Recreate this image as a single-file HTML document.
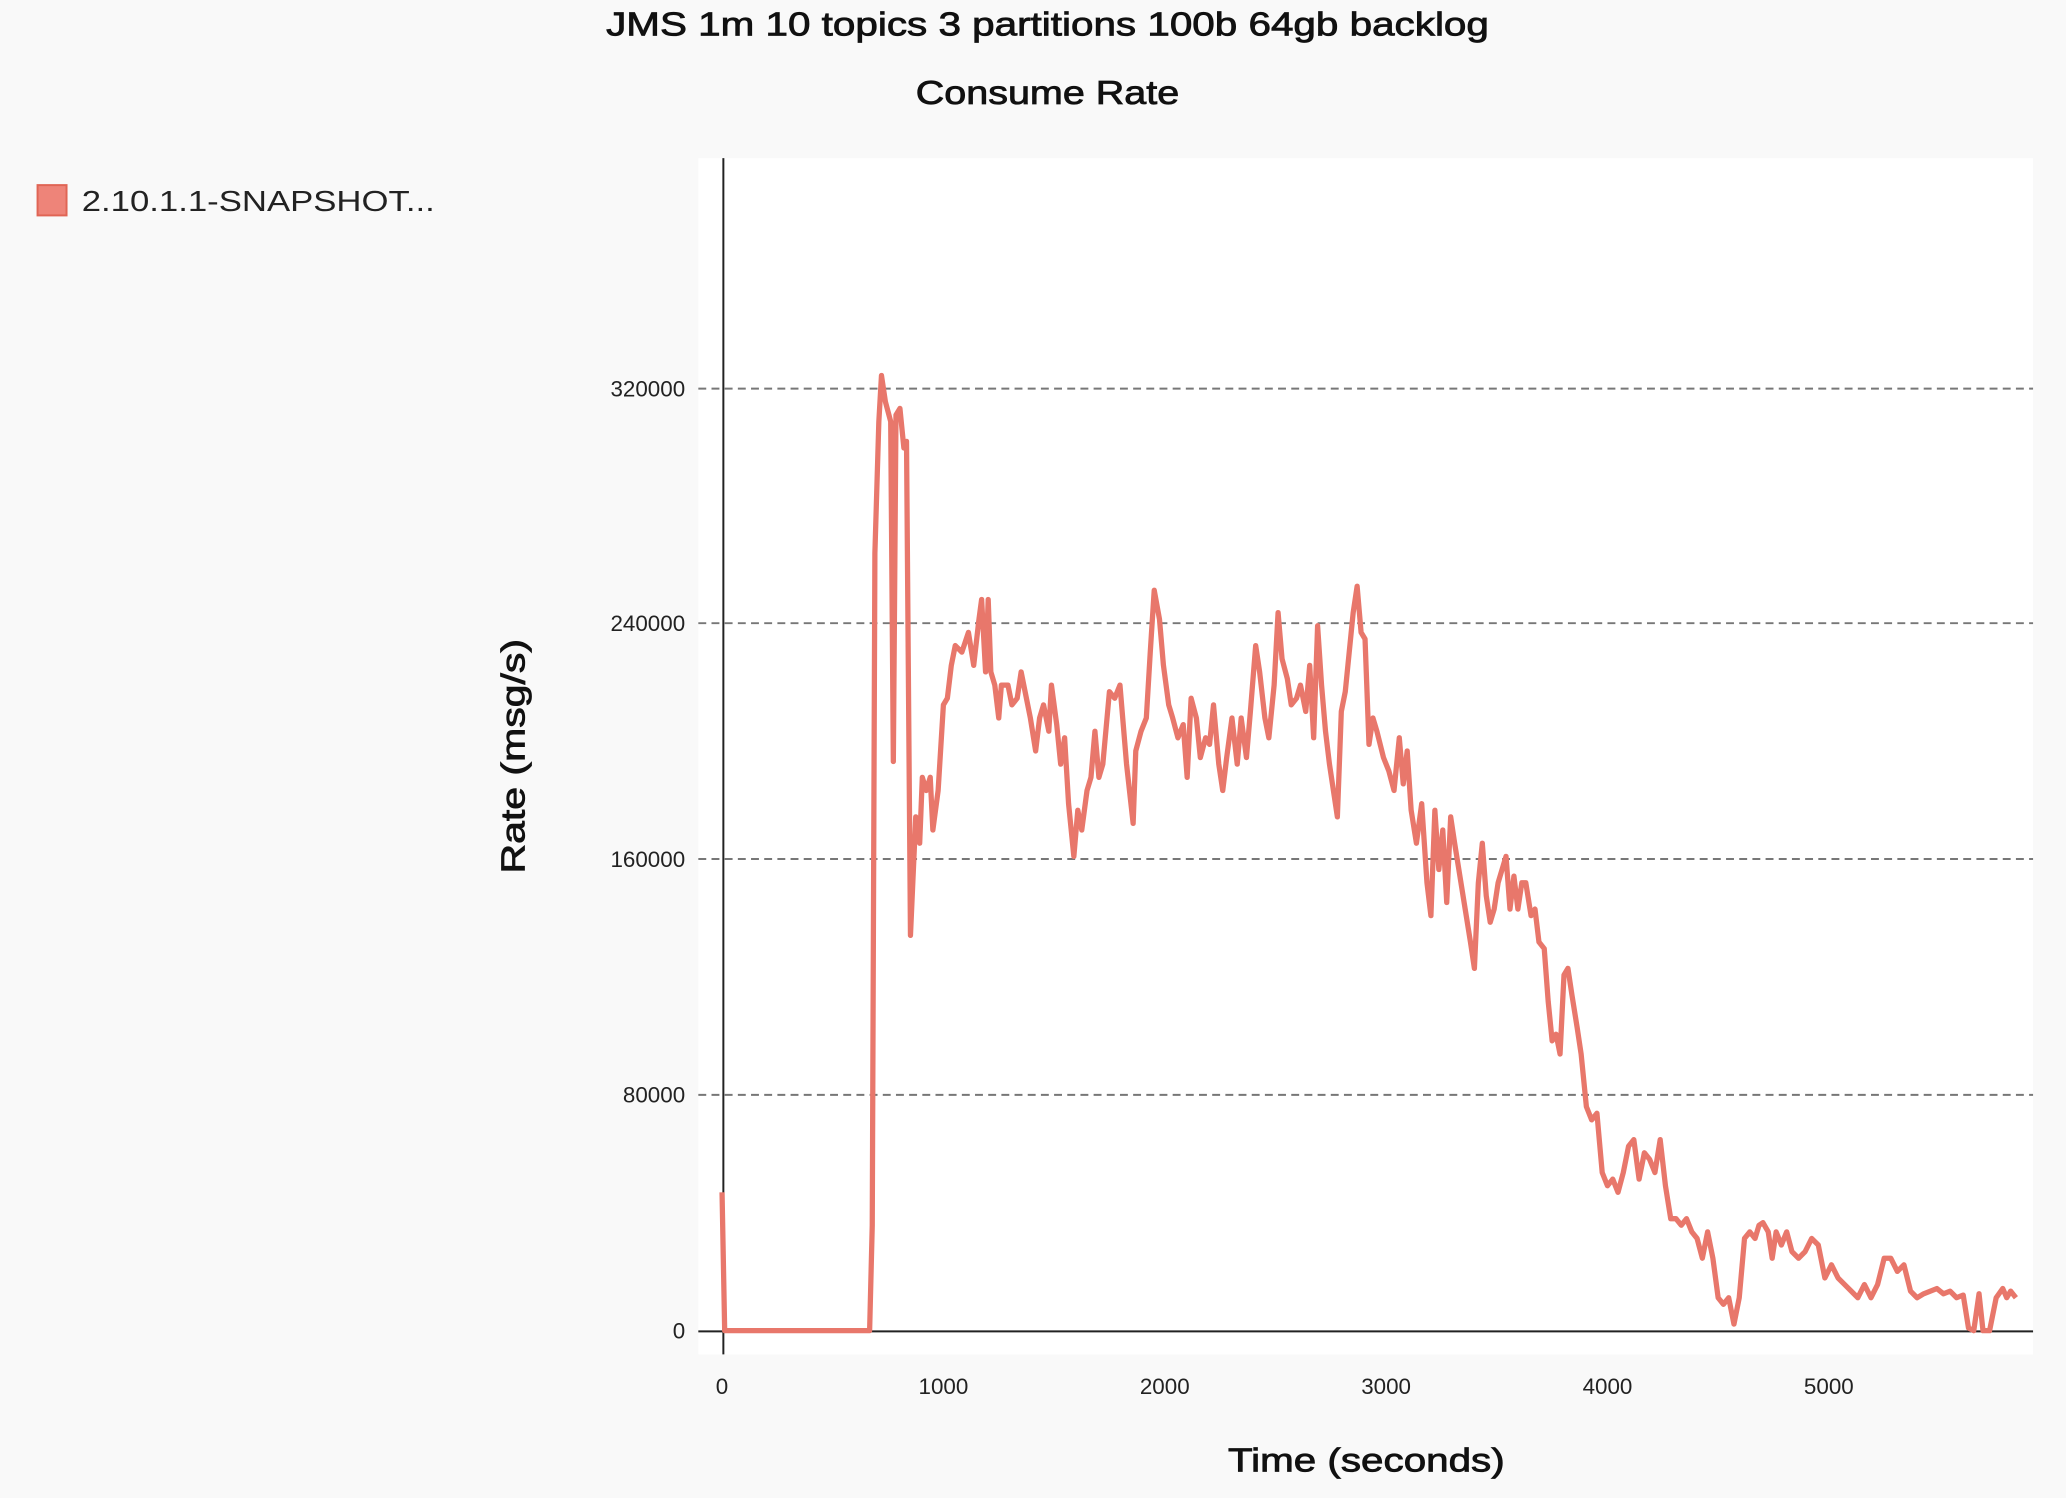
<!DOCTYPE html>
<html><head><meta charset="utf-8"><style>html,body{margin:0;padding:0;background:#f9f9f9}svg{display:block}</style></head>
<body>
<svg width="2066" height="1498" viewBox="0 0 1568 1137" preserveAspectRatio="none" xmlns="http://www.w3.org/2000/svg" font-family="Liberation Sans, DejaVu Sans, sans-serif">
<rect width="1568" height="1137" fill="#f9f9f9"/>
<rect x="530" y="120" width="1013" height="908" fill="#fff"/>
<g stroke="#777" stroke-width="1.5" stroke-dasharray="6,4">
<line x1="530" x2="1543" y1="831" y2="831"/><line x1="530" x2="1543" y1="652" y2="652"/><line x1="530" x2="1543" y1="473" y2="473"/><line x1="530" x2="1543" y1="295" y2="295"/>
</g>
<line x1="530" x2="1543" y1="1010.5" y2="1010.5" stroke="#222" stroke-width="1.5"/>
<line x1="549" x2="549" y1="120" y2="1028" stroke="#222" stroke-width="1.5"/>
<g font-size="17" fill="#222" text-anchor="end">
<text x="520" y="1016">0</text><text x="520" y="837">80000</text><text x="520" y="658">160000</text><text x="520" y="479">240000</text><text x="520" y="301">320000</text>
</g>
<g font-size="17" fill="#222" text-anchor="middle">
<text x="548" y="1058">0</text><text x="716" y="1058">1000</text><text x="884" y="1058">2000</text><text x="1052" y="1058">3000</text><text x="1220" y="1058">4000</text><text x="1388" y="1058">5000</text>
</g>
<g fill="#111" stroke="#111" stroke-width="0.6">
<text x="460" y="27" font-size="25" textLength="670" lengthAdjust="spacingAndGlyphs">JMS 1m 10 topics 3 partitions 100b 64gb backlog</text>
<text x="695" y="79" font-size="25" textLength="200" lengthAdjust="spacingAndGlyphs">Consume Rate</text>
<text x="932" y="1117" font-size="25" textLength="210" lengthAdjust="spacingAndGlyphs">Time (seconds)</text>
<text transform="translate(398,663) rotate(-90)" font-size="25" textLength="178" lengthAdjust="spacingAndGlyphs">Rate (msg/s)</text>
</g>
<rect x="28.5" y="140.5" width="22" height="23" fill="#ee8479" stroke="#e06555" stroke-width="1.5"/>
<text x="62" y="160" font-size="22" fill="#222" textLength="268" lengthAdjust="spacingAndGlyphs">2.10.1.1-SNAPSHOT...</text>
<polyline fill="none" stroke="#e8776b" stroke-width="4" stroke-linejoin="round" points="548,905 550,1010 660,1010 662,930 664,420 667,320 669,285 672,305 676,320 678,578 680,315 683,310 686,340 688,335 691,710 695,620 698,640 700,590 703,600 706,590 708,630 712,600 716,535 719,530 722,505 725,490 730,495 735,480 739,505 743,470 745,455 748,510 750,455 752,510 755,520 758,545 760,520 765,520 768,535 772,530 775,510 778,525 782,545 786,570 789,545 792,535 796,555 798,520 802,550 805,580 808,560 811,610 815,650 818,615 821,630 825,600 828,590 831,555 834,590 837,580 842,525 846,530 850,520 855,580 860,625 862,570 866,555 870,545 873,495 876,448 880,470 883,505 887,535 890,545 894,560 898,550 901,590 904,530 908,545 911,575 915,560 918,565 921,535 925,580 928,600 931,575 935,545 939,580 942,545 946,575 949,540 953,490 956,510 960,545 963,560 967,520 970,465 973,500 977,515 980,535 984,530 987,520 991,540 994,505 997,560 1000,475 1003,520 1006,555 1009,580 1012,600 1015,620 1018,540 1021,525 1024,495 1027,465 1030,445 1033,480 1036,485 1039,565 1042,545 1045,555 1050,575 1054,585 1058,600 1062,560 1065,595 1068,570 1071,615 1075,640 1079,610 1083,670 1086,695 1089,615 1092,660 1095,630 1098,685 1101,620 1104,640 1108,665 1112,690 1116,715 1119,735 1122,670 1125,640 1128,680 1131,700 1134,690 1137,670 1140,660 1143,650 1146,690 1149,665 1152,690 1155,670 1158,670 1162,695 1165,690 1168,715 1172,720 1175,760 1178,790 1181,785 1184,800 1187,740 1190,735 1193,755 1197,780 1200,800 1204,840 1208,850 1212,845 1216,890 1220,900 1224,895 1228,905 1232,890 1236,870 1240,865 1244,895 1248,875 1252,880 1256,890 1260,865 1264,900 1268,925 1272,925 1276,930 1280,925 1284,935 1288,940 1292,955 1296,935 1300,955 1304,985 1308,990 1312,985 1316,1005 1320,985 1324,940 1328,935 1332,940 1335,930 1338,928 1342,935 1345,955 1348,935 1352,945 1356,935 1360,950 1365,955 1370,950 1375,940 1380,945 1385,970 1390,960 1395,970 1400,975 1405,980 1410,985 1415,975 1420,985 1425,975 1430,955 1435,955 1440,965 1445,960 1450,980 1455,985 1460,982 1465,980 1470,978 1475,982 1480,980 1485,985 1490,983 1494,1008 1498,1010 1502,982 1505,1010 1510,1010 1515,985 1520,978 1523,985 1526,980 1530,985"/>
</svg>
</body></html>
